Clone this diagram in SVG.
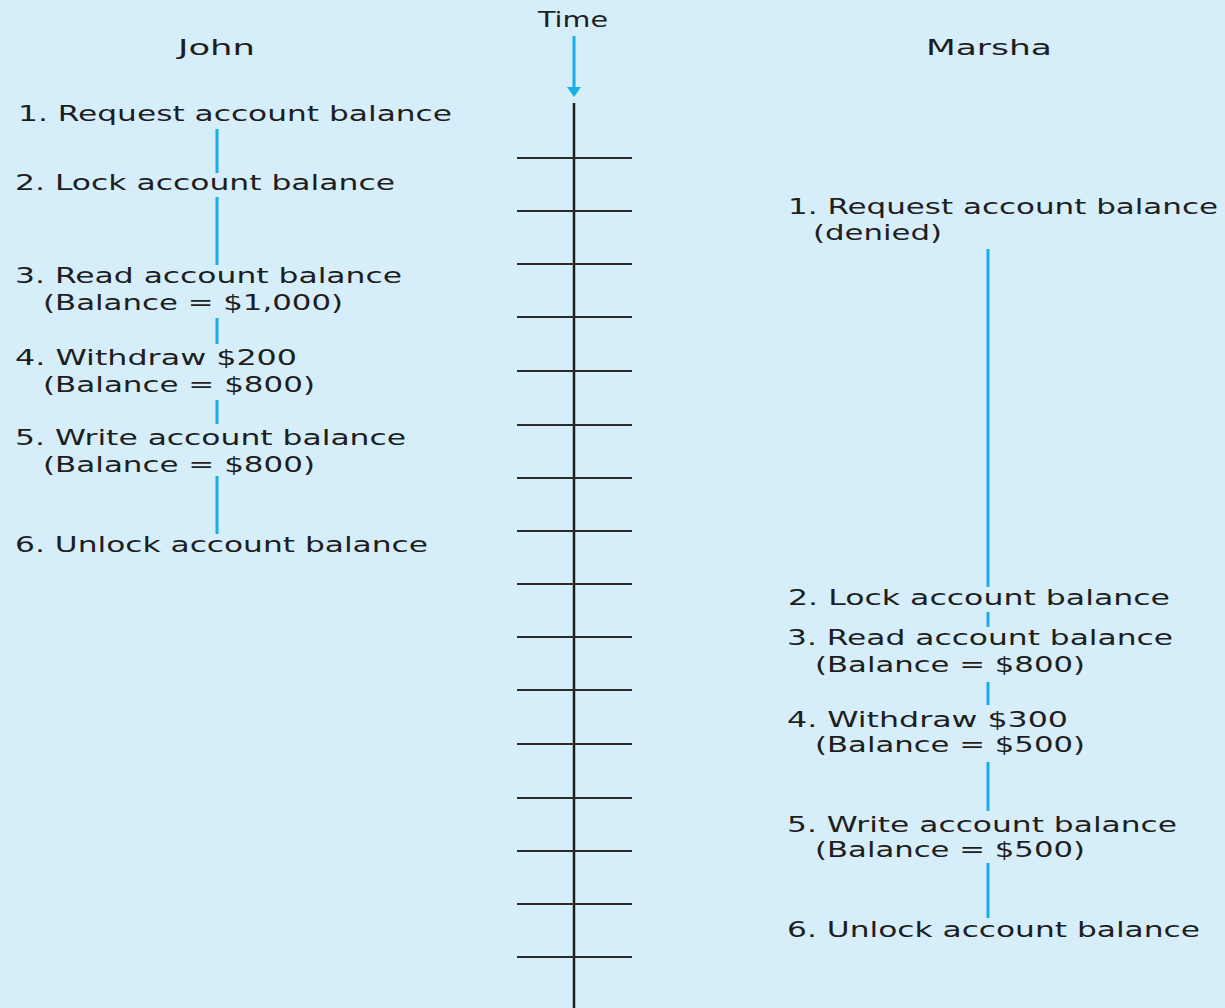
<svg xmlns="http://www.w3.org/2000/svg" width="1225" height="1008" viewBox="0 0 1225 1008">
  <style>
    .lbl { font-family: "DejaVu Sans", "Liberation Sans", sans-serif; font-size: 22px; fill: #1e1e1e; }
    .hdr { font-family: "DejaVu Sans", "Liberation Sans", sans-serif; font-size: 22px; fill: #1e1e1e; }
    .step { stroke: #19aee6; stroke-width: 3; fill: none; }
    .axis { stroke: #1c1c1c; stroke-width: 2.5; fill: none; }
    .tick { stroke: #2a2a2a; stroke-width: 2; fill: none; }
  </style>
  <rect width="1225" height="1008" fill="#d6eefa"/>

  <!-- column headings -->
  <g id="heading-time">
    <text class="hdr" x="538" y="27" textLength="70" lengthAdjust="spacingAndGlyphs">Time</text>
  </g>
  <g id="heading-john">
    <text class="hdr" x="178" y="55" textLength="77" lengthAdjust="spacingAndGlyphs">John</text>
  </g>
  <g id="heading-marsha">
    <text class="hdr" x="926" y="55" textLength="126" lengthAdjust="spacingAndGlyphs">Marsha</text>
  </g>

  <!-- time axis with ticks -->
  <g id="time-axis">
    <line class="axis" x1="574" y1="103" x2="574" y2="1008"/>
    <g class="tick">
      <line x1="517" y1="158" x2="632" y2="158"/>
      <line x1="517" y1="211" x2="632" y2="211"/>
      <line x1="517" y1="264" x2="632" y2="264"/>
      <line x1="517" y1="317" x2="632" y2="317"/>
      <line x1="517" y1="371" x2="632" y2="371"/>
      <line x1="517" y1="425" x2="632" y2="425"/>
      <line x1="517" y1="478" x2="632" y2="478"/>
      <line x1="517" y1="531" x2="632" y2="531"/>
      <line x1="517" y1="584" x2="632" y2="584"/>
      <line x1="517" y1="637" x2="632" y2="637"/>
      <line x1="517" y1="690" x2="632" y2="690"/>
      <line x1="517" y1="744" x2="632" y2="744"/>
      <line x1="517" y1="798" x2="632" y2="798"/>
      <line x1="517" y1="851" x2="632" y2="851"/>
      <line x1="517" y1="904" x2="632" y2="904"/>
      <line x1="517" y1="957" x2="632" y2="957"/>
    </g>
  </g>

  <!-- John's steps -->
  <g id="john-1"><text class="lbl" x="18" y="121" textLength="434" lengthAdjust="spacingAndGlyphs">1. Request account balance</text></g>
  <g id="john-2"><text class="lbl" x="15" y="190" textLength="380" lengthAdjust="spacingAndGlyphs">2. Lock account balance</text></g>
  <g id="john-3">
    <text class="lbl" x="15" y="283" textLength="387" lengthAdjust="spacingAndGlyphs">3. Read account balance</text>
    <text class="lbl" x="43" y="310" textLength="300" lengthAdjust="spacingAndGlyphs">(Balance = $1,000)</text>
  </g>
  <g id="john-4">
    <text class="lbl" x="15" y="365" textLength="282" lengthAdjust="spacingAndGlyphs">4. Withdraw $200</text>
    <text class="lbl" x="43" y="392" textLength="272" lengthAdjust="spacingAndGlyphs">(Balance = $800)</text>
  </g>
  <g id="john-5">
    <text class="lbl" x="15" y="445" textLength="391" lengthAdjust="spacingAndGlyphs">5. Write account balance</text>
    <text class="lbl" x="43" y="472" textLength="272" lengthAdjust="spacingAndGlyphs">(Balance = $800)</text>
  </g>
  <g id="john-6"><text class="lbl" x="15" y="552" textLength="413" lengthAdjust="spacingAndGlyphs">6. Unlock account balance</text></g>

  <!-- Marsha's steps -->
  <g id="marsha-1">
    <text class="lbl" x="788" y="214" textLength="430" lengthAdjust="spacingAndGlyphs">1. Request account balance</text>
    <text class="lbl" x="813" y="240" textLength="129" lengthAdjust="spacingAndGlyphs">(denied)</text>
  </g>
  <g id="marsha-2"><text class="lbl" x="788" y="605" textLength="382" lengthAdjust="spacingAndGlyphs">2. Lock account balance</text></g>
  <g id="marsha-3">
    <text class="lbl" x="787" y="645" textLength="386" lengthAdjust="spacingAndGlyphs">3. Read account balance</text>
    <text class="lbl" x="815" y="672" textLength="270" lengthAdjust="spacingAndGlyphs">(Balance = $800)</text>
  </g>
  <g id="marsha-4">
    <text class="lbl" x="787" y="727" textLength="281" lengthAdjust="spacingAndGlyphs">4. Withdraw $300</text>
    <text class="lbl" x="815" y="752" textLength="270" lengthAdjust="spacingAndGlyphs">(Balance = $500)</text>
  </g>
  <g id="marsha-5">
    <text class="lbl" x="787" y="832" textLength="390" lengthAdjust="spacingAndGlyphs">5. Write account balance</text>
    <text class="lbl" x="815" y="857" textLength="270" lengthAdjust="spacingAndGlyphs">(Balance = $500)</text>
  </g>
  <g id="marsha-6"><text class="lbl" x="787" y="937" textLength="413" lengthAdjust="spacingAndGlyphs">6. Unlock account balance</text></g>

  <!-- connectors: time arrow and step links -->
  <g id="connectors">
    <line class="step" x1="574" y1="36" x2="574" y2="90"/>
    <polygon points="567,87 581,87 574,97" fill="#19aee6"/>

    <line class="step" x1="217" y1="129" x2="217" y2="173"/>
    <line class="step" x1="217" y1="197" x2="217" y2="265"/>
    <line class="step" x1="217" y1="318" x2="217" y2="344"/>
    <line class="step" x1="217" y1="400" x2="217" y2="424"/>
    <line class="step" x1="217" y1="476" x2="217" y2="534"/>

    <line class="step" x1="988" y1="249" x2="988" y2="587"/>
    <line class="step" x1="988" y1="612" x2="988" y2="627"/>
    <line class="step" x1="988" y1="682" x2="988" y2="705"/>
    <line class="step" x1="988" y1="762" x2="988" y2="811"/>
    <line class="step" x1="988" y1="863" x2="988" y2="918"/>
  </g>
</svg>
